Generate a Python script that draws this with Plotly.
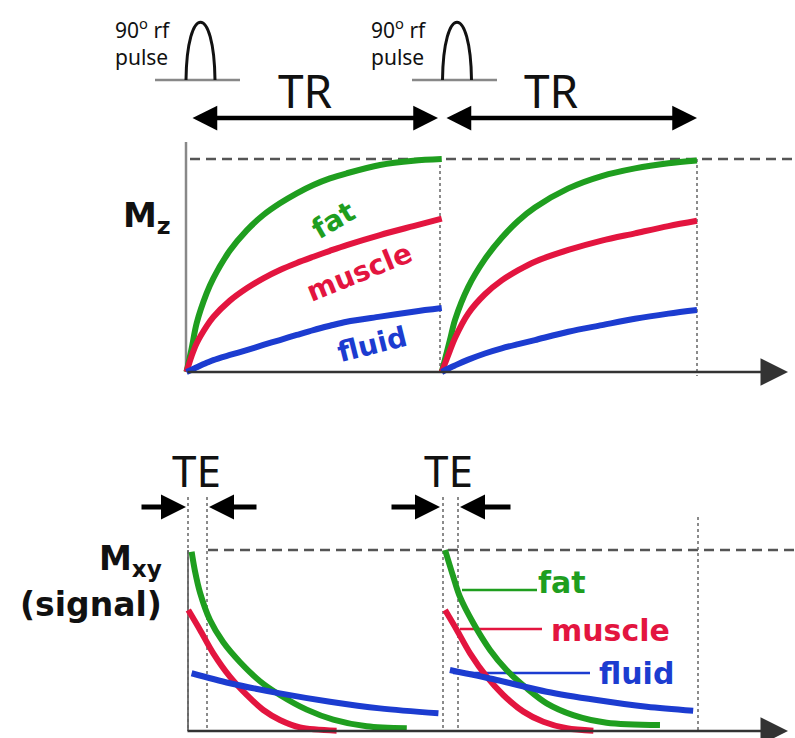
import plotly.graph_objects as go

W, H = 795, 738

# ---------------- data ----------------
names = ["fat", "muscle", "fluid"]
colors = ["#1f9e1f", "#e3153f", "#1c3cd0"]

# Top panel: Mz (fraction of M0) vs time in units of TR
tr1_t = [0, 0.02, 0.04, 0.079, 0.105, 0.170, 0.236, 0.301, 0.366, 0.432, 0.497, 0.562, 0.628, 0.758, 0.889, 1.0]
tr1_fat = [0, 0.11, 0.23, 0.37, 0.44, 0.57, 0.665, 0.737, 0.792, 0.839, 0.878, 0.909, 0.933, 0.972, 0.992, 1.0]
tr1_muscle = [0, 0.075, 0.135, 0.215, 0.258, 0.335, 0.393, 0.44, 0.479, 0.512, 0.541, 0.569, 0.596, 0.643, 0.685, 0.72]
tr1_fluid = [0, 0.011, 0.022, 0.043, 0.056, 0.08, 0.103, 0.127, 0.150, 0.174, 0.197, 0.217, 0.236, 0.26, 0.283, 0.30]

tr2_t = [1.0, 1.032, 1.052, 1.104, 1.169, 1.235, 1.30, 1.365, 1.496, 1.627, 1.757, 1.888, 2.0]
tr2_fat = [0, 0.15, 0.245, 0.40, 0.53, 0.63, 0.71, 0.772, 0.862, 0.920, 0.956, 0.98, 0.993]
tr2_muscle = [0, 0.10, 0.16, 0.275, 0.365, 0.43, 0.478, 0.518, 0.573, 0.617, 0.651, 0.685, 0.71]
tr2_fluid = [0, 0.02, 0.031, 0.058, 0.087, 0.111, 0.131, 0.150, 0.189, 0.22, 0.25, 0.274, 0.291]

# Bottom panel: Mxy (signal) vs time in units of TR
sig1_fat_t = [0.02, 0.033, 0.053, 0.092, 0.144, 0.21, 0.288, 0.366, 0.471, 0.575, 0.706, 0.863]
sig1_fat = [0.99, 0.885, 0.765, 0.613, 0.49, 0.38, 0.275, 0.199, 0.118, 0.063, 0.026, 0.015]
sig1_muscle_t = [0.007, 0.053, 0.105, 0.170, 0.236, 0.301, 0.366, 0.445, 0.588]
sig1_muscle = [0.668, 0.558, 0.429, 0.30, 0.199, 0.116, 0.061, 0.02, 0.002]
sig1_fluid_t = [0.02, 0.170, 0.366, 0.562, 0.758, 0.987]
sig1_fluid = [0.319, 0.264, 0.208, 0.162, 0.125, 0.098]

sig2_fat_t = [1.013, 1.045, 1.071, 1.124, 1.189, 1.254, 1.333, 1.411, 1.515, 1.646, 1.855]
sig2_fat = [1.0, 0.853, 0.742, 0.595, 0.448, 0.337, 0.236, 0.153, 0.088, 0.046, 0.033]
sig2_muscle_t = [1.013, 1.059, 1.111, 1.176, 1.241, 1.32, 1.398, 1.49, 1.594]
sig2_muscle = [0.668, 0.558, 0.429, 0.30, 0.199, 0.107, 0.051, 0.015, 0.002]
sig2_fluid_t = [1.032, 1.215, 1.411, 1.607, 1.803, 1.985]
sig2_fluid = [0.337, 0.282, 0.217, 0.171, 0.134, 0.112]

# ---------------- axes geometry (pixel layout) ----------------
X0, XS = 186.5, 255.25          # pixel of t=0, pixels per TR
YT0, YTS = 372.0, 213.0         # top panel: pixel of Mz=0, pixels per unit
YB0, YBS = 731.0, 181.0         # bottom panel: pixel of Mxy=0, pixels per unit

def PX(x):
    return x / W

def PY(y):
    return 1 - y / H

fig = go.Figure()

top_sets = [
    (tr1_t, [tr1_fat, tr1_muscle, tr1_fluid]),
    (tr2_t, [tr2_fat, tr2_muscle, tr2_fluid]),
]
for tt, ys in top_sets:
    for name, col, yy in zip(names, colors, ys):
        fig.add_trace(go.Scatter(x=tt, y=yy, mode="lines", name=name,
                                 line=dict(color=col, width=6, shape="spline", smoothing=0.9),
                                 hoverinfo="skip", showlegend=False, xaxis="x", yaxis="y"))

bot_sets = [
    [(sig1_fat_t, sig1_fat), (sig1_muscle_t, sig1_muscle), (sig1_fluid_t, sig1_fluid)],
    [(sig2_fat_t, sig2_fat), (sig2_muscle_t, sig2_muscle), (sig2_fluid_t, sig2_fluid)],
]
for group in bot_sets:
    for name, col, (tt, yy) in zip(names, colors, group):
        fig.add_trace(go.Scatter(x=tt, y=yy, mode="lines", name=name,
                                 line=dict(color=col, width=6, shape="spline", smoothing=0.9),
                                 hoverinfo="skip", showlegend=False, xaxis="x", yaxis="y2"))

shapes = []
annots = []

def line(x0, y0, x1, y1, color="#666", width=2, dash="solid"):
    shapes.append(dict(type="line", xref="paper", yref="paper",
                       x0=PX(x0), y0=PY(y0), x1=PX(x1), y1=PY(y1),
                       line=dict(color=color, width=width, dash=dash), layer="below"))

def arrow(hx, hy, tx, ty, width=4, size=1.0, color="#000", both=False, head=2):
    a = dict(x=PX(hx), y=PY(hy), xref="paper", yref="paper",
             ax=tx - hx, ay=ty - hy, axref="pixel", ayref="pixel",
             text="", showarrow=True, arrowhead=head, arrowsize=size,
             arrowwidth=width, arrowcolor=color)
    if both:
        a.update(arrowside="end+start", startarrowhead=head, startarrowsize=size)
    annots.append(a)

def text(x, y, s, size, color="#111", family="Noto Sans", xanchor="center", angle=0):
    annots.append(dict(x=PX(x), y=PY(y), xref="paper", yref="paper", text=s,
                       showarrow=False, xanchor=xanchor, yanchor="middle",
                       textangle=angle, font=dict(size=size, color=color, family=family)))

# --- top panel frame ---
line(186, 142, 186, 372, "#888", 2.5)
line(190, 159, 795, 159, "#555", 2.5, "10px,6px")
line(440, 159, 440, 372, "#666", 1.5, "dot")
line(697, 159, 697, 376, "#666", 1.5, "dot")
arrow(788, 372, 186, 372, width=2.5, size=2.2, color="#333")

# --- bottom panel frame ---
line(188, 550, 188, 731, "#777", 2)
line(208, 550, 795, 550, "#555", 2.5, "10px,6px")
for xv, ytop in [(188, 497), (207, 497), (443, 497), (458, 497), (698, 517)]:
    line(xv, ytop, xv, 731, "#666", 1.5, "dot")
arrow(788, 731, 186, 731, width=2.5, size=2.2, color="#333")

# --- rf pulses ---
for cx, bl0, bl1 in [(200.5, 155, 240), (457, 412, 497)]:
    line(bl0, 80, bl1, 80, "#888", 2.5)
    x0, x1 = cx - 14.5, cx + 14.5
    path = (f"M {PX(x0)},{PY(80)} C {PX(x0 + 1)},{PY(3)} {PX(x1 - 1)},{PY(3)} {PX(x1)},{PY(80)}")
    shapes.append(dict(type="path", xref="paper", yref="paper", path=path,
                       line=dict(color="#111", width=3)))
for lx in [113, 369]:
    annots.append(dict(x=PX(lx), y=PY(42), xref="paper", yref="paper",
                       text="90<sup>o</sup> rf<br>pulse", showarrow=False,
                       xanchor="left", yanchor="middle", align="left",
                       font=dict(size=21, color="#111", family="Noto Sans")))

# --- TR arrows ---
text(305, 90, "TR", 46)
text(551, 90, "TR", 46)
arrow(438, 118, 191, 118, width=4.5, size=1.1, both=True)
arrow(697, 118, 445, 118, width=4.5, size=1.1, both=True)

# --- TE arrows ---
text(196, 470, "TE", 44)
text(448, 470, "TE", 44)
arrow(186, 507, 140, 507, width=5, size=1.0)
arrow(209, 507, 258, 507, width=5, size=1.0)
arrow(440, 507, 390, 507, width=5, size=1.0)
arrow(460, 507, 512, 507, width=5, size=1.0)

# --- axis labels ---
annots.append(dict(x=PX(173), y=PY(217), xref="paper", yref="paper",
                   text="<b>M<sub>z</sub></b>", showarrow=False, xanchor="right", yanchor="middle",
                   font=dict(size=34, color="#111", family="DejaVu Sans")))
annots.append(dict(x=PX(164), y=PY(560), xref="paper", yref="paper",
                   text="<b>M<sub>xy</sub></b>", showarrow=False, xanchor="right", yanchor="middle",
                   font=dict(size=33, color="#111", family="DejaVu Sans")))
annots.append(dict(x=PX(164), y=PY(604), xref="paper", yref="paper",
                   text="<b>(signal)</b>", showarrow=False, xanchor="right", yanchor="middle",
                   font=dict(size=33, color="#111", family="DejaVu Sans")))

# --- curve labels (top, rotated) ---
for (x, y, ang, size), nm, col in zip([(333, 220, -30, 28), (359, 273, -22, 28), (372, 344, -14, 28)], names, colors):
    text(x, y, f"<b>{nm}</b>", size, color=col, family="DejaVu Sans", angle=ang)

# --- curve labels (bottom, with leader lines) ---
for (lx0, lx1, ly, tx, ty), nm, col in zip([(462, 537, 590, 536, 582),
                                             (460, 542, 629, 549, 630),
                                             (453, 590, 673, 597, 673)], names, colors):
    line(lx0, ly, lx1, ly, col, 2.5)
    text(tx, ty, f"<b>{nm}</b>", 30, color=col, family="DejaVu Sans", xanchor="left")

fig.update_layout(
    width=W, height=H,
    margin=dict(l=0, r=0, t=0, b=0),
    paper_bgcolor="white", plot_bgcolor="white",
    xaxis=dict(range=[-X0 / XS, (W - X0) / XS], visible=False, fixedrange=True),
    yaxis=dict(range=[(YT0 - H) / YTS, YT0 / YTS], visible=False, fixedrange=True, domain=[0, 1]),
    yaxis2=dict(range=[(YB0 - H) / YBS, YB0 / YBS], visible=False, fixedrange=True,
                overlaying="y", domain=[0, 1]),
    shapes=shapes, annotations=annots, showlegend=False,
)

fig.write_html("out.html", config={"displayModeBar": False},
               post_script="document.body.style.margin='0px';document.body.style.overflow='hidden';")
